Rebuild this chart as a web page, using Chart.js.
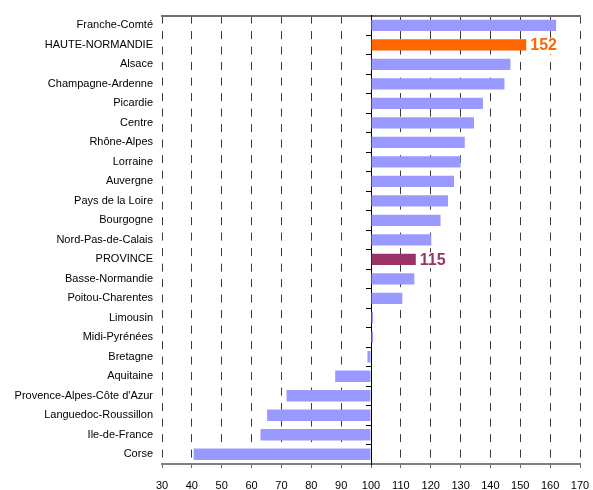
<!DOCTYPE html>
<html>
<head>
<meta charset="utf-8">
<script src="https://cdn.jsdelivr.net/npm/chart.js@4/dist/chart.umd.min.js"></script>
<style>
  html, body { margin: 0; padding: 0; background: #fff; }
  #wrap { width: 593px; height: 490px; }
</style>
</head>
<body>
<div id="wrap"><canvas id="chart"></canvas></div>
<script>
// regions, top to bottom
var regions = ['Franche-Comté', 'HAUTE-NORMANDIE', 'Alsace', 'Champagne-Ardenne', 'Picardie', 'Centre',
  'Rhône-Alpes', 'Lorraine', 'Auvergne', 'Pays de la Loire', 'Bourgogne', 'Nord-Pas-de-Calais',
  'PROVINCE', 'Basse-Normandie', 'Poitou-Charentes', 'Limousin', 'Midi-Pyrénées', 'Bretagne',
  'Aquitaine', "Provence-Alpes-Côte d'Azur", 'Languedoc-Roussillon', 'Ile-de-France', 'Corse'];

// index values (base 100)
var indexValues = [162, 152, 146.7, 144.7, 137.5, 134.5,
  131.4, 130, 127.8, 125.8, 123.3, 120.2,
  115, 114.5, 110.5, 100.7, 100.7, 98.8,
  88, 71.7, 65.2, 63, 40.6];

var xMin = 30, xMax = 170, xStep = 10, baseValue = 100;

// highlighted rows get their own colour and a value label
var highlight = { 'HAUTE-NORMANDIE': '#FF6600', 'PROVINCE': '#993366' };
var barColor = '#9999FF';

var barColors = regions.map(function(r) { return highlight[r] || barColor; });

var FONT = 'Liberation Sans, Arial, sans-serif';

// writes the value next to the highlighted bars
var valueLabels = {
  id: 'valueLabels',
  afterDatasetsDraw: function(chart) {
    var ctx = chart.ctx;
    var xs = chart.scales.x, ys = chart.scales.y;
    ctx.save();
    ctx.font = 'bold 16px ' + FONT;
    ctx.textBaseline = 'middle';
    ctx.textAlign = 'left';
    regions.forEach(function(r, i) {
      if (!highlight[r]) return;
      var txt = String(Math.round(indexValues[i]));
      var x = xs.getPixelForValue(indexValues[i]) + 4, y = ys.getPixelForValue(i) + 1;
      ctx.fillStyle = '#fff';
      ctx.fillRect(x - 1, y - 8, ctx.measureText(txt).width + 2, 16);
      ctx.fillStyle = highlight[r];
      ctx.fillText(txt, x, y);
    });
    ctx.restore();
  }
};

function isBase(c) { return c.tick && c.tick.value === baseValue; }

new Chart(document.getElementById('chart'), {
  type: 'bar',
  data: {
    labels: regions,
    datasets: [{
      data: indexValues,
      base: baseValue,
      backgroundColor: barColors,
      borderWidth: 0,
      barPercentage: 0.58,
      categoryPercentage: 1
    }]
  },
  options: {
    indexAxis: 'y',
    responsive: true,
    maintainAspectRatio: false,
    animation: false,
    layout: { padding: { left: 0, right: 13, top: 15, bottom: 0 } },
    plugins: { legend: { display: false }, tooltip: { enabled: false } },
    scales: {
      x: {
        type: 'linear',
        position: 'bottom',
        min: xMin, max: xMax,
        ticks: { stepSize: xStep, color: '#000', font: { family: FONT, size: 11 }, padding: 11, maxRotation: 0 },
        grid: {
          color: function(c) { return isBase(c) ? '#000' : '#3a3a3a'; },
          lineWidth: 1,
          tickLength: 4,
          tickColor: '#666',
          tickBorderDash: []
        },
        border: {
          display: true, color: '#808080', width: 2,
          dash: function(c) { return isBase(c) ? [] : [8, 7.5]; },
          dashOffset: 0
        },
        afterFit: function(s) { s.height = 26; s.paddingLeft = 0; s.paddingRight = 0; }
      },
      xTop: {
        type: 'linear',
        position: 'top',
        min: xMin, max: xMax,
        ticks: { display: false },
        grid: { display: false, drawTicks: false },
        border: { display: true, color: '#707070', width: 2 },
        afterFit: function(s) { s.height = 0; s.paddingLeft = 0; s.paddingRight = 0; }
      },
      y: {
        type: 'category',
        position: 'left',
        ticks: { color: '#000', font: { family: FONT, size: 11 }, padding: 9, autoSkip: false },
        grid: { display: false, drawTicks: false },
        border: { display: false },
        afterFit: function(s) { s.width = 162; }
      },
      yMid: {
        type: 'category',
        position: { x: baseValue },
        ticks: { display: false },
        grid: { offset: true, drawOnChartArea: false, drawTicks: true, tickLength: 5, color: '#000' },
        border: { display: true, color: '#000', width: 1 }
      }
    }
  },
  plugins: [valueLabels]
});
</script>
</body>
</html>
